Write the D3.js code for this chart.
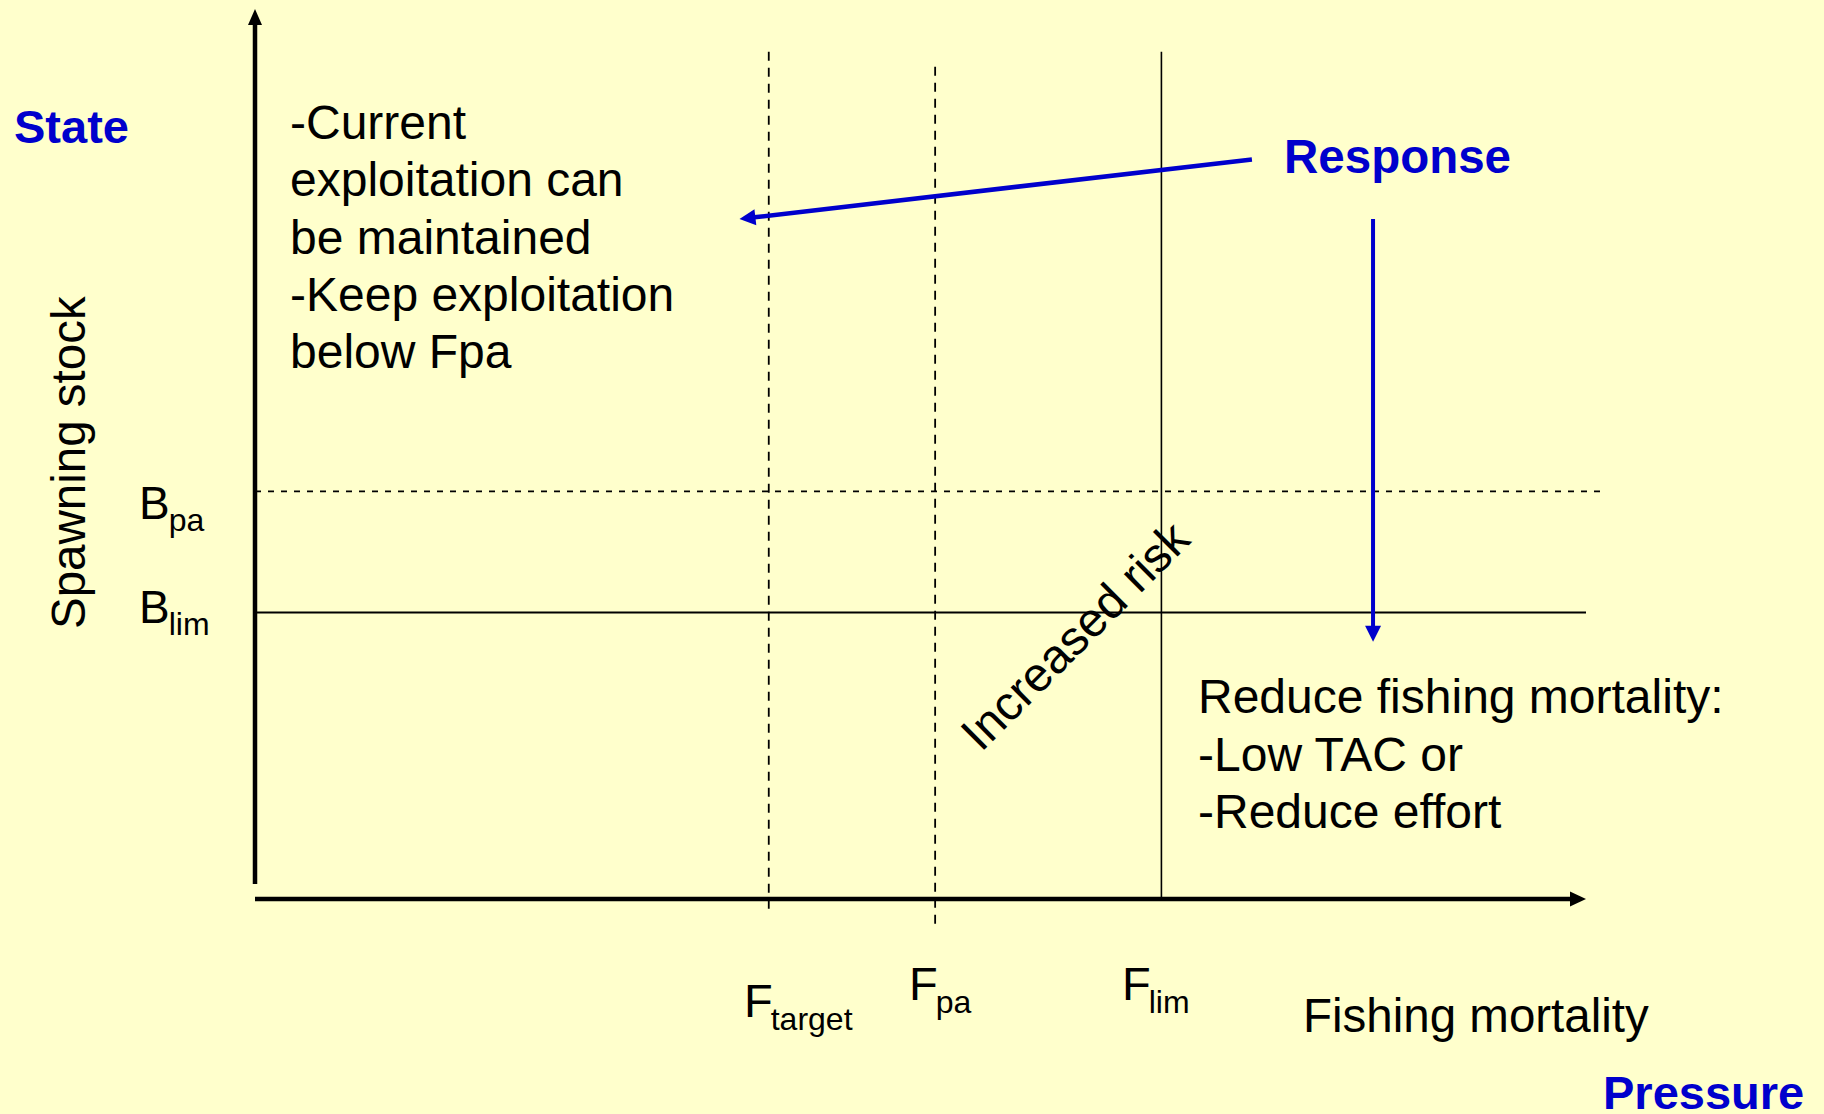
<!DOCTYPE html>
<html>
<head>
<meta charset="utf-8">
<script src="https://cdn.jsdelivr.net/npm/d3@7/dist/d3.min.js"></script>
<style>
  body { margin: 0; background: #ffffcc; }
  svg { display: block; }
  text { font-family: "Liberation Sans", Arial, sans-serif; }
</style>
</head>
<body>
<div id="chart"></div>
<script>
// reference points on the fishing mortality axis (0-100 scale)
var fNames = ["target", "pa", "lim"];
var fValues = [38.6, 51.1, 68.1];
var fTops = [95.2, 93.5, 95.2];      // how far up each line runs
var fBottoms = [-1.6, -3.3, 0];      // dashed ones poke below the axis
var fDashed = [true, true, false];

// reference points on the spawning stock axis
var bNames = ["pa", "lim"];
var bValues = [45.8, 32.2];
var bEnds = [101.3, 100];
var bDashed = [true, false];

// response arrows: [x1, y1, x2, y2] in the same 0-100 space
var responseArrows = [
  [74.9, 83.1, 36.4, 76.4],
  [84.0, 76.4, 84.0, 28.9]
];

var leftNote = ["-Current", "exploitation can", "be maintained", "-Keep exploitation", "below Fpa"];
var rightNote = ["Reduce fishing mortality:", "-Low TAC or", "-Reduce effort"];

var width = 1824,
    height = 1114,
    blue = "#0000cc";

var x = d3.scaleLinear().domain([0, 100]).range([255, 1586]);
var y = d3.scaleLinear().domain([0, 100]).range([899, 9]);

var svg = d3.select("#chart").append("svg")
    .attr("width", width)
    .attr("height", height);

svg.append("rect")
    .attr("width", width)
    .attr("height", height)
    .attr("fill", "#ffffcc");

// line plus a filled triangle head at (x2,y2)
function arrow(g, x1, y1, x2, y2, w, len, half, color) {
  var dx = x2 - x1, dy = y2 - y1;
  var d = Math.sqrt(dx * dx + dy * dy);
  var ux = dx / d, uy = dy / d;
  var bx = x2 - ux * len, by = y2 - uy * len;
  g.append("line")
    .attr("x1", x1).attr("y1", y1)
    .attr("x2", bx + ux * 1).attr("y2", by + uy * 1)
    .attr("stroke", color)
    .attr("stroke-width", w);
  g.append("path")
    .attr("d", "M" + x2 + "," + y2 +
      "L" + (bx - uy * half) + "," + (by + ux * half) +
      "L" + (bx + uy * half) + "," + (by - ux * half) + "Z")
    .attr("fill", color);
}

// reference lines
svg.selectAll(".fline")
  .data(fValues)
  .enter().append("line")
    .attr("class", "fline")
    .attr("x1", function(d) { return x(d); })
    .attr("x2", function(d) { return x(d); })
    .attr("y1", function(d, i) { return y(fTops[i]); })
    .attr("y2", function(d, i) { return y(fBottoms[i]); })
    .attr("stroke", "#000")
    .attr("stroke-width", function(d, i) { return fDashed[i] ? 1.8 : 1.6; })
    .attr("stroke-dasharray", function(d, i) { return fDashed[i] ? "9,7" : null; });

svg.selectAll(".bline")
  .data(bValues)
  .enter().append("line")
    .attr("class", "bline")
    .attr("x1", x(0))
    .attr("x2", function(d, i) { return x(bEnds[i]); })
    .attr("y1", function(d) { return y(d); })
    .attr("y2", function(d) { return y(d); })
    .attr("stroke", "#000")
    .attr("stroke-width", function(d, i) { return bDashed[i] ? 1.8 : 2; })
    .attr("stroke-dasharray", function(d, i) { return bDashed[i] ? "6,7" : null; });

// axes
var axes = svg.append("g");
arrow(axes, x(0), 884, x(0), y(100), 4.5, 16, 7, "#000");
arrow(axes, x(0), y(0), x(100), y(0), 4.5, 16, 7.5, "#000");

// response arrows
var resp = svg.append("g");
responseArrows.forEach(function(a, i) {
  arrow(resp, x(a[0]), y(a[1]), x(a[2]), y(a[3]), i === 0 ? 4.5 : 4, 16, 8, blue);
});

// blue headings
svg.append("text").attr("x", 14).attr("y", 143)
  .attr("font-size", 47).attr("font-weight", "bold").attr("fill", blue).text("State");
svg.append("text").attr("x", 1284).attr("y", 173)
  .attr("font-size", 47.5).attr("font-weight", "bold").attr("fill", blue).text("Response");
svg.append("text").attr("x", 1603).attr("y", 1109)
  .attr("font-size", 47).attr("font-weight", "bold").attr("fill", blue).text("Pressure");

// axis titles
svg.append("text")
  .attr("transform", "translate(85,629) rotate(-90)")
  .attr("font-size", 47.5).text("Spawning stock");
svg.append("text").attr("x", 1303).attr("y", 1032)
  .attr("font-size", 47.5).text("Fishing mortality");

// F labels
var fLabelX = [744, 909, 1122],
    fLabelY = [1017, 1000, 1000];
var fl = svg.selectAll(".flabel")
  .data(fNames)
  .enter().append("text")
    .attr("class", "flabel")
    .attr("x", function(d, i) { return fLabelX[i]; })
    .attr("y", function(d, i) { return fLabelY[i]; })
    .attr("font-size", 47);
fl.append("tspan").text("F");
fl.append("tspan").attr("font-size", 32).attr("dy", 13).attr("dx", -2)
  .text(function(d) { return d; });

// B labels
var bLabelY = [519, 623];
var bl = svg.selectAll(".blabel")
  .data(bNames)
  .enter().append("text")
    .attr("class", "blabel")
    .attr("x", 139)
    .attr("y", function(d, i) { return bLabelY[i]; })
    .attr("font-size", 46);
bl.append("tspan").text("B");
bl.append("tspan").attr("font-size", 32).attr("dy", 12).attr("dx", -1)
  .text(function(d) { return d; });

// notes
var ln = svg.append("text").attr("font-size", 48);
ln.selectAll("tspan").data(leftNote).enter().append("tspan")
  .attr("x", 290)
  .attr("y", function(d, i) { return 139 + i * 57.3; })
  .text(function(d) { return d; });

var rn = svg.append("text").attr("font-size", 48);
rn.selectAll("tspan").data(rightNote).enter().append("tspan")
  .attr("x", 1198)
  .attr("y", function(d, i) { return 713 + i * 57.5; })
  .text(function(d) { return d; });

svg.append("text")
  .attr("transform", "translate(981,753) rotate(-45)")
  .attr("font-size", 48).text("Increased risk");
</script>
</body>
</html>
